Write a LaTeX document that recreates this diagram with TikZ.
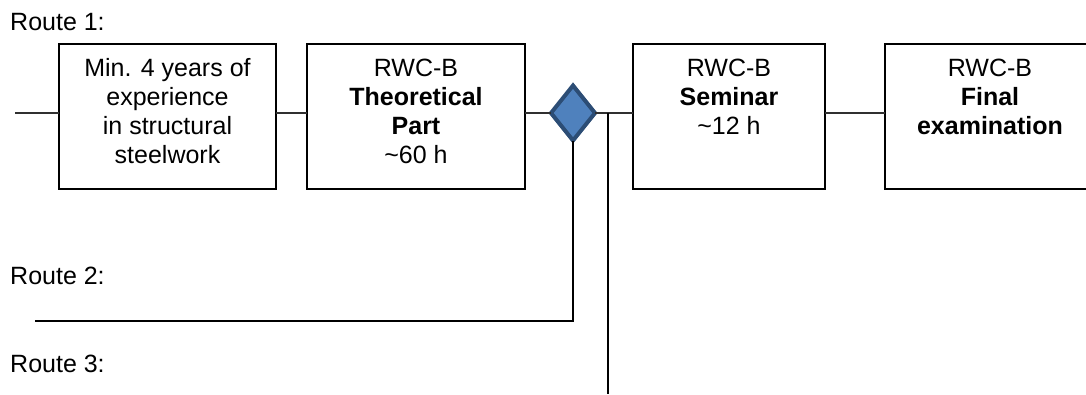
\documentclass[tikz,border=0pt]{standalone}
\usepackage{fontspec}
\setmainfont{Liberation Sans}
\usetikzlibrary{shapes.geometric}
\definecolor{dfill}{HTML}{4F81BD}
\definecolor{dline}{HTML}{2C4D75}
\definecolor{conn}{HTML}{303030}
\tikzset{
  stepbox/.style={draw=black, line width=2pt, minimum width=#1, minimum height=145pt, inner sep=0pt, outer sep=0pt},
  boxtext/.style={anchor=base, inner sep=0pt, align=center, font=\fontsize{25pt}{29pt}\selectfont},
  routetext/.style={anchor=base west, inner sep=0pt, font=\fontsize{25pt}{29pt}\selectfont},
  link/.style={draw=conn, line width=1.5pt},
  route/.style={draw=black, line width=2pt},
  gate/.style={diamond, draw=dline, fill=dfill, line width=4pt, minimum width=44pt, minimum height=55pt, inner sep=0pt, outer sep=0pt}
}
\begin{document}
\begin{tikzpicture}[x=1pt,y=-1pt]
\useasboundingbox (0,0) rectangle (1086,394);
% boxes
\node[stepbox=217pt] (b1) at (167.5,116.5) {};
\node[stepbox=218pt] (b2) at (416,116.5) {};
\node[stepbox=192pt] (b3) at (729,116.5) {};
\node[stepbox=210pt] (b4) at (990,116.5) {};
\node[gate] (d) at (573,113) {};
% texts (anchor base = last line's baseline)
\node[boxtext] (t1) at (167.5,163) {Min. 4 years of\\experience\\in structural\\steelwork};
\node[boxtext] (t2) at (416,163) {RWC-B\\\textbf{Theoretical}\\\textbf{Part}\\\textasciitilde60 h};
\node[boxtext] (t3) at (729,134) {RWC-B\\\textbf{Seminar}\\\textasciitilde12 h};
\node[boxtext] (t4) at (990,134) {RWC-B\\\textbf{Final}\\\textbf{examination}};
\node[routetext] (r1) at (10,30) {Route 1:};
\node[routetext] (r2) at (10,284) {Route 2:};
\node[routetext] (r3) at (10,372) {Route 3:};
% coordinates
\coordinate (s1) at (15,113);
\coordinate (r2end) at (35,321);
\coordinate (j3) at (608,113);
\coordinate (r3end) at (608,394);
% connectors
\draw[link] (s1) -- (s1 -| b1.west);
\draw[link] (d.west -| b1.east) -- (d.west -| b2.west);
\draw[link] (d.west -| b2.east) -- (d.west);
\draw[link] (d.east) -- (d.east -| b3.west);
\draw[link] (d.east -| b3.east) -- (d.east -| b4.west);
\draw[route] (d.south) |- (r2end);
\draw[route] (j3) -- (r3end);
\end{tikzpicture}
\end{document}
